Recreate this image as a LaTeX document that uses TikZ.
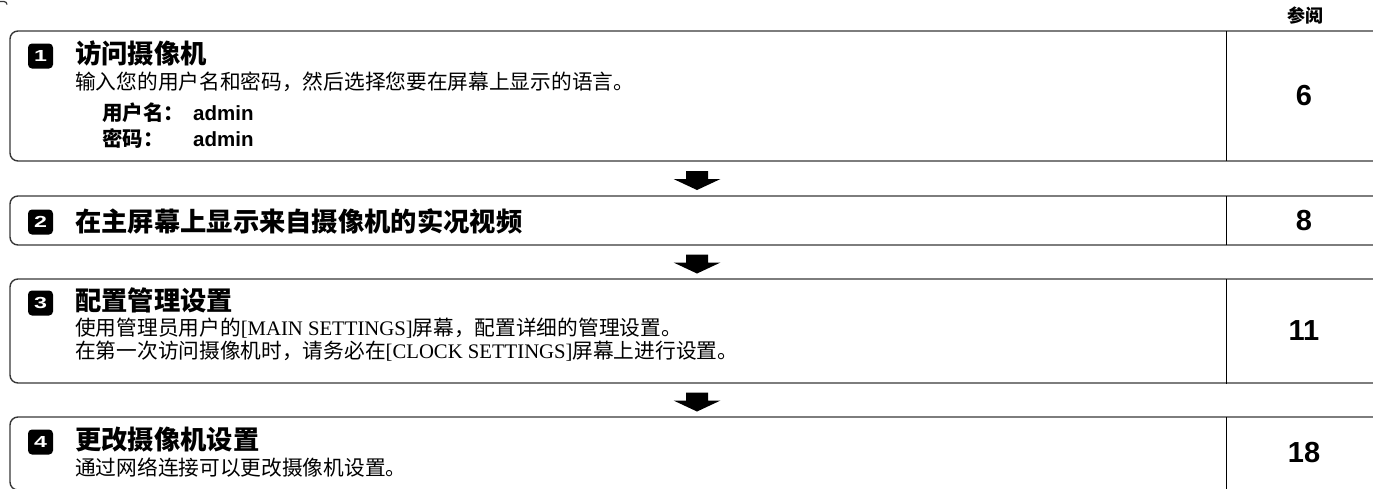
\documentclass[tikz,border=0pt]{standalone}
\usepackage{fontspec}
\setmainfont{Liberation Serif}
\setsansfont{Liberation Sans}
\newfontfamily\cjk{Noto Sans CJK SC}
\usetikzlibrary{calc}
\newcommand{\badgenum}[1]{\scalebox{1.45}[1]{#1}}
\tikzset{
  boxline/.style={draw=black!78, line width=1.4pt, rounded corners=8pt},
  divline/.style={draw=black, line width=0.9pt},
  badge/.style={fill=black, rounded corners=4pt, minimum width=25pt, minimum height=25pt, inner sep=0pt, text=white, font=\sffamily\bfseries\fontsize{16}{16}\selectfont},
  titletext/.style={anchor=west, inner sep=0pt, font=\cjk\bfseries\fontsize{26.3}{30}\selectfont},
  bodytext/.style={anchor=west, inner sep=0pt, font=\fontsize{20.7}{24}\selectfont},
  loginlabel/.style={anchor=west, inner sep=0pt, font=\cjk\bfseries\fontsize{20.5}{24}\selectfont},
  loginvalue/.style={anchor=west, inner sep=0pt, font=\sffamily\bfseries\fontsize{20.5}{24}\selectfont},
  refnum/.style={inner sep=0pt, font=\sffamily\bfseries\fontsize{29}{30}\selectfont},
  reflabel/.style={inner sep=0pt, font=\cjk\bfseries\fontsize{18}{18}\selectfont},
  flowarrow/.style={fill=black},
}
\begin{document}
\begin{tikzpicture}[x=1pt,y=-1pt]
\useasboundingbox (0,0) rectangle (1373,488);

% remnant of a box above
\draw[black!78, line width=1.2pt] (-3,1.5) -- (4,1.5) arc[start angle=270, end angle=360, radius=3];

% header
\node[reflabel] (hdr) at (1305,16) {参阅};

% box outlines (open to the right)
\draw[boxline] (1390,31) -- (10,31) -- (10,161) -- (1390,161);
\draw[boxline] (1390,196) -- (10,196) -- (10,245) -- (1390,245);
\draw[boxline] (1390,279) -- (10,279) -- (10,383) -- (1390,383);
\draw[boxline] (1390,417) -- (10,417) -- (10,490) -- (1390,490);

% box anchors
\coordinate (b1top) at (697,31);  \coordinate (b1bot) at (697,161);
\coordinate (b2top) at (697,196); \coordinate (b2bot) at (697,245);
\coordinate (b3top) at (697,279); \coordinate (b3bot) at (697,383);
\coordinate (b4top) at (697,417);

% dividers
\draw[divline] (1226,31) -- (1226,161);
\draw[divline] (1226,196) -- (1226,245);
\draw[divline] (1226,279) -- (1226,384);
\draw[divline] (1226,417) -- (1226,490);

% flow arrows between boxes
\foreach \a/\b/\n in {b1bot/b2top/a1, b2bot/b3top/a2, b3bot/b4top/a3}{
  \coordinate (\n) at ($(\a)!0.5!(\b)+(0,1)$);
  \fill[flowarrow] ([shift={(-11,-8.5)}]\n) -- ([shift={(11,-8.5)}]\n) -- ([shift={(11,-0.5)}]\n)
     -- ([shift={(23.5,-0.5)}]\n) -- ([shift={(0,10.5)}]\n) -- ([shift={(-23.5,-0.5)}]\n)
     -- ([shift={(-11,-0.5)}]\n) -- cycle;
}

% step 1
\node[badge] (s1) at (40.5,56) {\badgenum{1}};
\node[titletext] (t1) at (75,53.5) {访问摄像机};
\node[bodytext] (d1) at (75,81.5) {\cjk 输入您的用户名和密码，然后选择您要在屏幕上显示的语言。};
\node[loginlabel] (u1) at (102,113) {用户名：};
\node[loginvalue] (u2) at (193,113) {admin};
\node[loginlabel] (p1) at (102,139) {密码：};
\node[loginvalue] (p2) at (193,139) {admin};
\node[refnum] (r1) at (1304,96) {6};

% step 2
\node[badge] (s2) at (40.5,222) {\badgenum{2}};
\node[titletext] (t2) at (75,221) {在主屏幕上显示来自摄像机的实况视频};
\node[refnum] (r2) at (1304,221) {8};

% step 3
\node[badge] (s3) at (40.5,303) {\badgenum{3}};
\node[titletext] (t3) at (75,300.5) {配置管理设置};
\node[bodytext] (d3a) at (75,328.5) {{\cjk 使用管理员用户的}[MAIN SETTINGS]{\cjk 屏幕，配置详细的管理设置。}};
\node[bodytext] (d3b) at (75,351.5) {{\cjk 在第一次访问摄像机时，请务必在}[CLOCK SETTINGS]{\cjk 屏幕上进行设置。}};
\node[refnum] (r3) at (1304,331) {11};

% step 4
\node[badge] (s4) at (40.5,442) {\badgenum{4}};
\node[titletext] (t4) at (75,439.5) {更改摄像机设置};
\node[bodytext] (d4) at (75,468) {\cjk 通过网络连接可以更改摄像机设置。};
\node[refnum] (r4) at (1304,453) {18};
\end{tikzpicture}
\end{document}
